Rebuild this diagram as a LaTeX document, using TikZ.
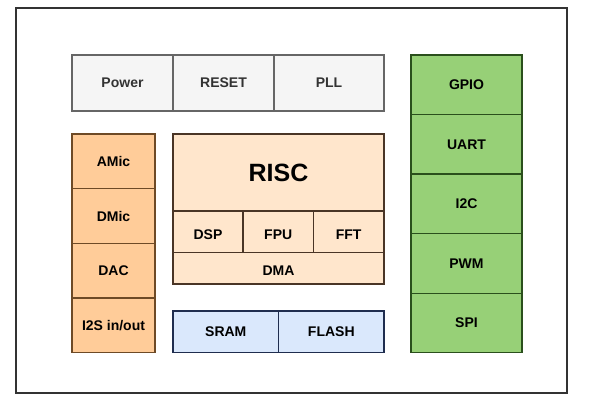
\documentclass[tikz,border=0pt]{standalone}
\usepackage{fontspec}
\setmainfont{Liberation Sans}
\definecolor{grayfill}{HTML}{F5F5F5}
\definecolor{graystroke}{HTML}{666666}
\definecolor{orfill}{HTML}{FFCC99}
\definecolor{orstroke}{HTML}{6E4A26}
\definecolor{riscfill}{HTML}{FFE6CC}
\definecolor{riscstroke}{HTML}{4A3526}
\definecolor{bluefill}{HTML}{DAE8FC}
\definecolor{bluestroke}{HTML}{1F2D4F}
\definecolor{greenfill}{HTML}{97D077}
\definecolor{greenstroke}{HTML}{2A4F1C}
\definecolor{framecol}{HTML}{333333}
\tikzset{
  blk/.style={draw, line width=1.3pt, inner sep=0pt, font=\fontsize{14}{16}\selectfont\bfseries, anchor=center},
  graybox/.style={blk, fill=grayfill, draw=graystroke, text=framecol},
  orbox/.style={blk, fill=orfill, draw=orstroke},
  riscbox/.style={blk, fill=riscfill, draw=riscstroke, line width=1.5pt},
  lowtext/.style={text height=15pt, text depth=0pt},
  bluebox/.style={blk, fill=bluefill, draw=bluestroke},
  greenbox/.style={blk, fill=greenfill, draw=greenstroke},
}
\begin{document}
\begin{tikzpicture}[x=1pt,y=-1pt]
\useasboundingbox (0,0) rectangle (603,416);
\fill[white] (0,0) rectangle (603,416);
\node[draw=framecol, line width=1.5pt, minimum width=551pt, minimum height=385pt, inner sep=0pt] (frame) at (291.5,200.5) {};
% top gray row
\node[graybox, minimum width=101pt, minimum height=56pt] (power) at (122.5,83) {Power};
\node[graybox, minimum width=101pt, minimum height=56pt] (reset) at (223.5,83) {RESET};
\node[graybox, minimum width=110pt, minimum height=56pt] (pll) at (329,83) {PLL};
% orange column
\node[orbox, minimum width=83pt, minimum height=54.7pt] (amic) at (113.5,161.3) {AMic};
\node[orbox, minimum width=83pt, minimum height=54.7pt] (dmic) at (113.5,216) {DMic};
\node[orbox, minimum width=83pt, minimum height=54.7pt] (dac) at (113.5,270.7) {DAC};
\node[orbox, minimum width=83pt, minimum height=54.7pt] (i2s) at (113.5,325.3) {I2S in/out};
% RISC block
\node[riscbox, minimum width=211pt, minimum height=77pt, font=\fontsize{25}{28}\selectfont\bfseries] (risc) at (278.5,172.5) {RISC};
\node[riscbox, lowtext, minimum width=70pt, minimum height=41.7pt] (dsp) at (208,231.8) {DSP};
\node[riscbox, lowtext, minimum width=70.3pt, minimum height=41.7pt] (fpu) at (278.2,231.8) {FPU};
\node[riscbox, lowtext, minimum width=70.7pt, minimum height=41.7pt] (fft) at (348.7,231.8) {FFT};
\node[riscbox, lowtext, minimum width=211pt, minimum height=31.3pt] (dma) at (278.5,268.3) {DMA};
% memory
\node[bluebox, minimum width=105.7pt, minimum height=41.7pt] (sram) at (225.8,331.8) {SRAM};
\node[bluebox, minimum width=105.3pt, minimum height=41.7pt] (flash) at (331.3,331.8) {FLASH};
% green column
\node[greenbox, minimum width=111pt, minimum height=59.5pt] (gpio) at (466.5,84.8) {GPIO};
\node[greenbox, minimum width=111pt, minimum height=59.5pt] (uart) at (466.5,144.3) {UART};
\node[greenbox, minimum width=111pt, minimum height=59.5pt] (i2c) at (466.5,203.9) {I2C};
\node[greenbox, minimum width=111pt, minimum height=59.5pt] (pwm) at (466.5,263.4) {PWM};
\node[greenbox, minimum width=111pt, minimum height=59.5pt] (spi) at (466.5,322.9) {SPI};
\end{tikzpicture}
\end{document}
